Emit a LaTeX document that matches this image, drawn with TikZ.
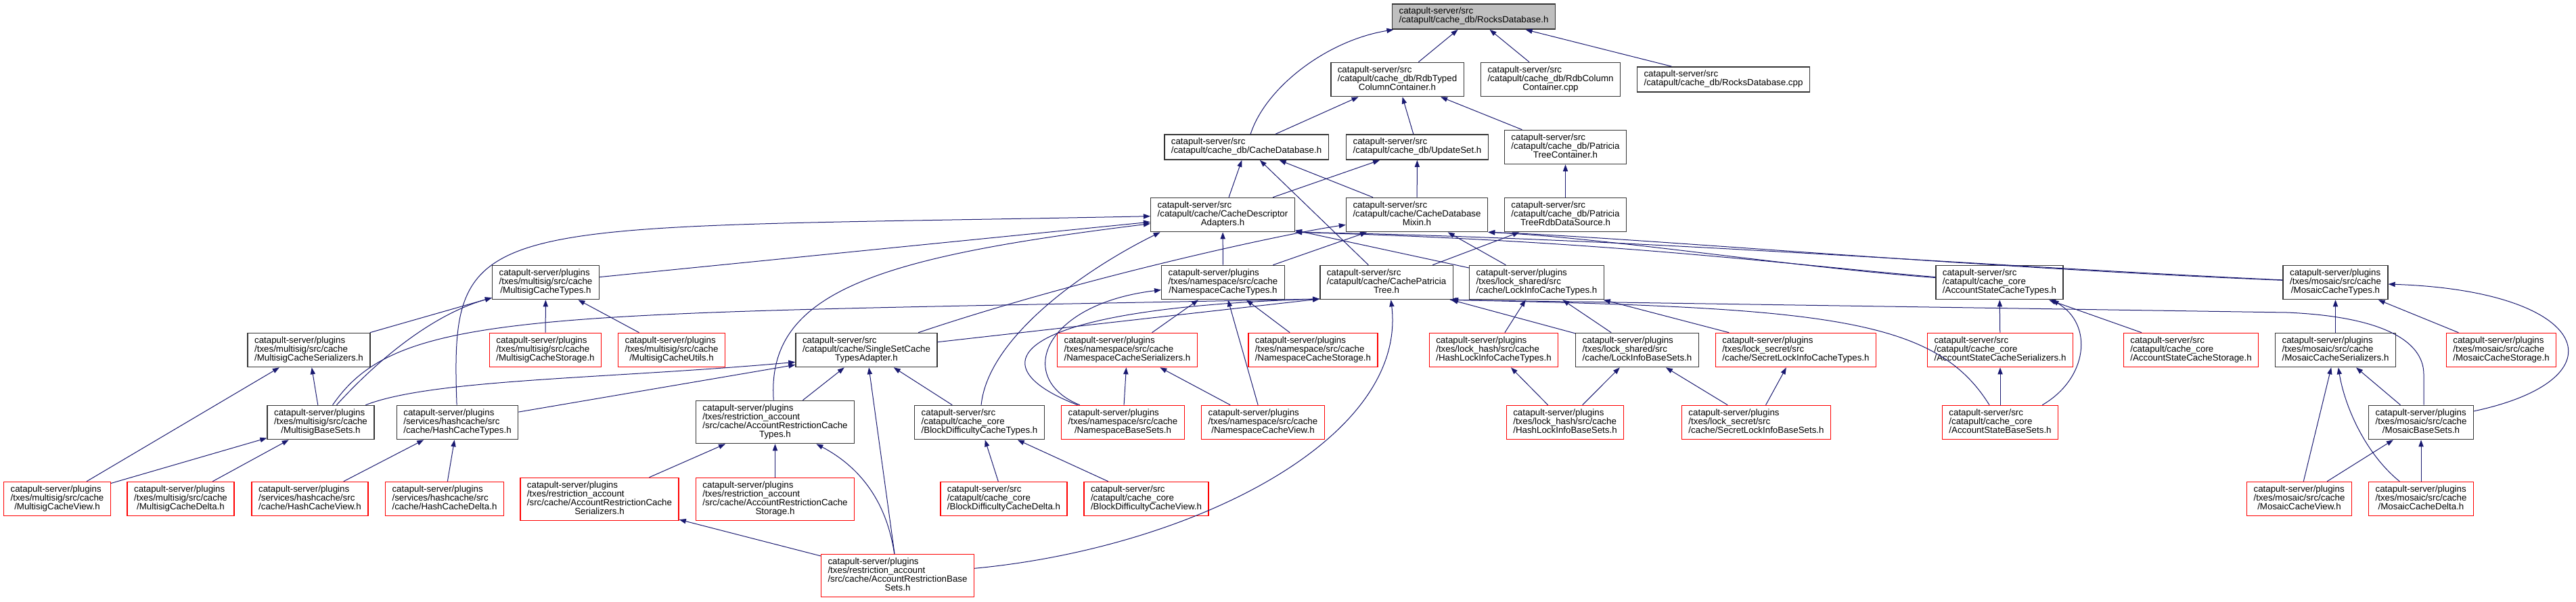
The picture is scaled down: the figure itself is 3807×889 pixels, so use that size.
\documentclass[tikz,border=0pt]{standalone}
\usepackage{fontspec}
\setmainfont{Liberation Sans}
\usetikzlibrary{arrows.meta}
\definecolor{Midnight}{HTML}{191970}
\definecolor{Frame}{HTML}{353535}
\definecolor{Alert}{HTML}{FF0000}
\definecolor{Shade}{HTML}{BFBFBF}
\newcommand{\lastln}[1]{\hfil#1\strut}
\begin{document}
\begin{tikzpicture}[x=.75pt,y=-.75pt,
file/.style={draw=Frame,line width=1.05pt,fill=white,align=left,inner xsep=7.5pt,inner ysep=4pt,font=\fontsize{10}{9.75}\selectfont},
trunc/.style={file,draw=Alert},
root/.style={file,fill=Shade},
incl/.style={-{Triangle[length=7.5pt,width=5.4pt]},draw=Midnight,line width=.75pt}]
\useasboundingbox (0,0) rectangle (3807,889);
% cache_db
\node[root](rdb) at (2178,24.5){catapult-server/src\\\lastln{/catapult/cache\_db/RocksDatabase.h}};
\node[file](rdbtyped) at (2065,117.5){catapult-server/src\\/catapult/cache\_db/RdbTyped\\\lastln{ColumnContainer.h}};
\node[file](rdbcol) at (2291.5,117.5){catapult-server/src\\/catapult/cache\_db/RdbColumn\\\lastln{Container.cpp}};
\node[file](rdbcpp) at (2547,117.5){catapult-server/src\\\lastln{/catapult/cache\_db/RocksDatabase.cpp}};
\node[file](cachedb) at (1842,217.5){catapult-server/src\\\lastln{/catapult/cache\_db/CacheDatabase.h}};
\node[file](updateset) at (2094.5,217.5){catapult-server/src\\\lastln{/catapult/cache\_db/UpdateSet.h}};
\node[file](ptcont) at (2313.5,217.5){catapult-server/src\\/catapult/cache\_db/Patricia\\\lastln{TreeContainer.h}};
\node[file](descr) at (1807,317.5){catapult-server/src\\/catapult/cache/CacheDescriptor\\\lastln{Adapters.h}};
\node[file](mixin) at (2094,317.5){catapult-server/src\\/catapult/cache/CacheDatabase\\\lastln{Mixin.h}};
\node[file](ptrdb) at (2313.5,317.5){catapult-server/src\\/catapult/cache\_db/Patricia\\\lastln{TreeRdbDataSource.h}};
% cache types
\node[file](msigtypes) at (806.5,417.5){catapult-server/plugins\\/txes/multisig/src/cache\\\lastln{/MultisigCacheTypes.h}};
\node[file](nstypes) at (1807.5,417.5){catapult-server/plugins\\/txes/namespace/src/cache\\\lastln{/NamespaceCacheTypes.h}};
\node[file](cpt) at (2049,417.5){catapult-server/src\\/catapult/cache/CachePatricia\\\lastln{Tree.h}};
\node[file](lockinfotypes) at (2271,417.5){catapult-server/plugins\\/txes/lock\_shared/src\\\lastln{/cache/LockInfoCacheTypes.h}};
\node[file](acctypes) at (2955,417.5){catapult-server/src\\/catapult/cache\_core\\\lastln{/AccountStateCacheTypes.h}};
\node[file](mosaictypes) at (3451.5,417.5){catapult-server/plugins\\/txes/mosaic/src/cache\\\lastln{/MosaicCacheTypes.h}};
% serializers, storages
\node[file](msigser) at (456.5,517.5){catapult-server/plugins\\/txes/multisig/src/cache\\\lastln{/MultisigCacheSerializers.h}};
\node[trunc](msigstor) at (806,517.5){catapult-server/plugins\\/txes/multisig/src/cache\\\lastln{/MultisigCacheStorage.h}};
\node[trunc](msigutils) at (992.5,517.5){catapult-server/plugins\\/txes/multisig/src/cache\\\lastln{/MultisigCacheUtils.h}};
\node[file](singleset) at (1280.5,517.5){catapult-server/src\\/catapult/cache/SingleSetCache\\\lastln{TypesAdapter.h}};
\node[trunc](nsser) at (1666,517.5){catapult-server/plugins\\/txes/namespace/src/cache\\\lastln{/NamespaceCacheSerializers.h}};
\node[trunc](nsstor) at (1940.5,517.5){catapult-server/plugins\\/txes/namespace/src/cache\\\lastln{/NamespaceCacheStorage.h}};
\node[trunc](hlitypes) at (2207.5,517.5){catapult-server/plugins\\/txes/lock\_hash/src/cache\\\lastln{/HashLockInfoCacheTypes.h}};
\node[file](libasesets) at (2419.5,517.5){catapult-server/plugins\\/txes/lock\_shared/src\\\lastln{/cache/LockInfoBaseSets.h}};
\node[trunc](slitypes) at (2654,517.5){catapult-server/plugins\\/txes/lock\_secret/src\\\lastln{/cache/SecretLockInfoCacheTypes.h}};
\node[trunc](accser) at (2956,517.5){catapult-server/src\\/catapult/cache\_core\\\lastln{/AccountStateCacheSerializers.h}};
\node[trunc](accstor) at (3238,517.5){catapult-server/src\\/catapult/cache\_core\\\lastln{/AccountStateCacheStorage.h}};
\node[file](mosser) at (3451.5,517.5){catapult-server/plugins\\/txes/mosaic/src/cache\\\lastln{/MosaicCacheSerializers.h}};
\node[trunc](mosstor) at (3696.5,517.5){catapult-server/plugins\\/txes/mosaic/src/cache\\\lastln{/MosaicCacheStorage.h}};
% base sets
\node[file](msigbase) at (474,624.5){catapult-server/plugins\\/txes/multisig/src/cache\\\lastln{/MultisigBaseSets.h}};
\node[file](hashtypes) at (676,624.5){catapult-server/plugins\\/services/hashcache/src\\\lastln{/cache/HashCacheTypes.h}};
\node[file](artypes) at (1145.5,624){catapult-server/plugins\\/txes/restriction\_account\\/src/cache/AccountRestrictionCache\\\lastln{Types.h}};
\node[file](bdtypes) at (1447.5,624.5){catapult-server/src\\/catapult/cache\_core\\\lastln{/BlockDifficultyCacheTypes.h}};
\node[trunc](nsbase) at (1659.5,624.5){catapult-server/plugins\\/txes/namespace/src/cache\\\lastln{/NamespaceBaseSets.h}};
\node[trunc](nsview) at (1866.5,624.5){catapult-server/plugins\\/txes/namespace/src/cache\\\lastln{/NamespaceCacheView.h}};
\node[trunc](hlibase) at (2313,624.5){catapult-server/plugins\\/txes/lock\_hash/src/cache\\\lastln{/HashLockInfoBaseSets.h}};
\node[trunc](slibase) at (2595.5,624.5){catapult-server/plugins\\/txes/lock\_secret/src\\\lastln{/cache/SecretLockInfoBaseSets.h}};
\node[trunc](accbase) at (2956,624.5){catapult-server/src\\/catapult/cache\_core\\\lastln{/AccountStateBaseSets.h}};
\node[file](mosbase) at (3578,624.5){catapult-server/plugins\\/txes/mosaic/src/cache\\\lastln{/MosaicBaseSets.h}};
% views, deltas
\node[trunc](msigview) at (84.5,737.5){catapult-server/plugins\\/txes/multisig/src/cache\\\lastln{/MultisigCacheView.h}};
\node[trunc](msigdelta) at (267,737.5){catapult-server/plugins\\/txes/multisig/src/cache\\\lastln{/MultisigCacheDelta.h}};
\node[trunc](hashview) at (458,737.5){catapult-server/plugins\\/services/hashcache/src\\\lastln{/cache/HashCacheView.h}};
\node[trunc](hashdelta) at (657,737.5){catapult-server/plugins\\/services/hashcache/src\\\lastln{/cache/HashCacheDelta.h}};
\node[trunc](arser) at (886,738){catapult-server/plugins\\/txes/restriction\_account\\/src/cache/AccountRestrictionCache\\\lastln{Serializers.h}};
\node[trunc](arstor) at (1145.5,738){catapult-server/plugins\\/txes/restriction\_account\\/src/cache/AccountRestrictionCache\\\lastln{Storage.h}};
\node[trunc](bddelta) at (1483.5,737.5){catapult-server/src\\/catapult/cache\_core\\\lastln{/BlockDifficultyCacheDelta.h}};
\node[trunc](bdview) at (1694,737.5){catapult-server/src\\/catapult/cache\_core\\\lastln{/BlockDifficultyCacheView.h}};
\node[trunc](mosview) at (3398,737.5){catapult-server/plugins\\/txes/mosaic/src/cache\\\lastln{/MosaicCacheView.h}};
\node[trunc](mosdelta) at (3578,737.5){catapult-server/plugins\\/txes/mosaic/src/cache\\\lastln{/MosaicCacheDelta.h}};
\node[trunc](arbase) at (1326.5,851){catapult-server/plugins\\/txes/restriction\_account\\/src/cache/AccountRestrictionBase\\\lastln{Sets.h}};
% includes, cache_db
\draw[incl](cachedb) .. controls (1870,130) and (1960,60) .. (rdb);
\draw[incl](rdbtyped)--(rdb);\draw[incl](rdbcol)--(rdb);\draw[incl](rdbcpp)--(rdb);
\draw[incl](cachedb)--(rdbtyped);\draw[incl](updateset)--(rdbtyped);\draw[incl](ptcont)--(rdbtyped);
\draw[incl](descr)--(cachedb);\draw[incl](cpt)--(cachedb);\draw[incl](mixin)--(cachedb);
\draw[incl](descr)--(updateset);\draw[incl](mixin)--(updateset);\draw[incl](ptrdb)--(ptcont);\draw[incl](cpt)--(ptrdb);
% includes, cache
\draw[incl](hashtypes) .. controls (665,310) and (700,340) .. (descr);
\draw[incl](msigtypes)--(descr);
\draw[incl](artypes) .. controls (1132,430) and (1300,380) .. (descr);
\draw[incl](bdtypes) .. controls (1460,500) and (1600,400) .. ([xshift=11pt]descr.south west);
\draw[incl](nstypes)--(descr);\draw[incl](lockinfotypes)--(descr);
\draw[incl](mosaictypes) .. controls (2900,392) and (2420,352) .. (descr.south east);
\draw[incl](acctypes) .. controls (2650,392) and (2380,356) .. (descr.south east);
\draw[incl](singleset) .. controls (1600,410) and (1900,345) .. (mixin);
\draw[incl](nstypes)--(mixin);\draw[incl](lockinfotypes)--(mixin);
\draw[incl](mosaictypes) .. controls (2900,395) and (2400,350) .. (mixin.south east);
\draw[incl](acctypes) .. controls (2650,395) and (2380,352) .. (mixin.south east);
\draw[incl](singleset)--([yshift=1pt]cpt.south west);
\draw[incl](msigbase) .. controls (590,455) and (800,465) .. ([yshift=1pt]cpt.south west);
\draw[incl](nsbase) .. controls (1440,540) and (1490,456) .. ([yshift=1pt]cpt.south west);
\draw[incl](libasesets)--(cpt);
\draw[incl](arbase) .. controls (1760,810) and (2080,650) .. ([xshift=5pt]cpt.south);
\draw[incl](accbase) .. controls (2860,470) and (2700,455) .. ([xshift=-4pt]cpt.south east);
\draw[incl]([xshift=3pt]mosbase.north) -- ++(0,-45) .. controls +(0,-50) and (3520,468) .. (3380,462) -- ([xshift=-2pt]cpt.south east);
% includes, multisig and hashcache
\draw[incl](msigser)--(msigtypes);\draw[incl](msigstor)--(msigtypes);\draw[incl](msigutils)--(msigtypes);
\draw[incl](msigbase) .. controls (560,530) and (640,465) .. (msigtypes);
\draw[incl](msigview)--(msigser);\draw[incl](msigbase)--(msigser);\draw[incl](msigview)--(msigbase);\draw[incl](msigdelta)--(msigbase);
\draw[incl](msigbase) .. controls (640,560) and (900,560) .. ([yshift=6pt]singleset.south west);
\draw[incl](hashtypes)--([yshift=3pt]singleset.south west);
\draw[incl](hashview)--(hashtypes);\draw[incl](hashdelta)--(hashtypes);
% includes, restriction and block difficulty
\draw[incl](artypes)--(singleset);\draw[incl](arser)--(artypes);\draw[incl](arstor)--(artypes);
\draw[incl](arbase) .. controls (1310,740) and (1270,690) .. (artypes);
\draw[incl](arbase)--(arser);\draw[incl](arbase)--(singleset);
\draw[incl](bdtypes)--(singleset);\draw[incl](bddelta)--(bdtypes);\draw[incl](bdview)--(bdtypes);
% includes, namespace
\draw[incl](nsser)--(nstypes);\draw[incl](nsstor)--(nstypes);\draw[incl](nsview)--(nstypes);
\draw[incl](nsbase) .. controls (1500,560) and (1540,450) .. (nstypes);
\draw[incl](nsbase)--(nsser);\draw[incl](nsview)--(nsser);
% includes, lock
\draw[incl](hlitypes)--(lockinfotypes);\draw[incl](libasesets)--(lockinfotypes);\draw[incl](slitypes)--(lockinfotypes);
\draw[incl](hlibase)--(hlitypes);\draw[incl](hlibase)--(libasesets);\draw[incl](slibase)--(libasesets);\draw[incl](slibase)--(slitypes);
% includes, account state and mosaic
\draw[incl](accser)--(acctypes);\draw[incl](accstor)--(acctypes);\draw[incl](accbase)--(accser);
\draw[incl]([xshift=-18pt]accbase.north east) .. controls (3085,560) and (3095,480) .. ([xshift=-13pt]acctypes.south east);
\draw[incl](mosser)--(mosaictypes);\draw[incl](mosstor)--(mosaictypes);
\draw[incl](mosbase) .. controls (3880,560) and (3830,430) .. (mosaictypes);
\draw[incl](mosview)--(mosser);\draw[incl](mosbase)--(mosser);
\draw[incl](mosdelta) .. controls (3495,670) and (3465,600) .. (mosser);
\draw[incl](mosview)--(mosbase);\draw[incl](mosdelta)--(mosbase);
\end{tikzpicture}
\end{document}
